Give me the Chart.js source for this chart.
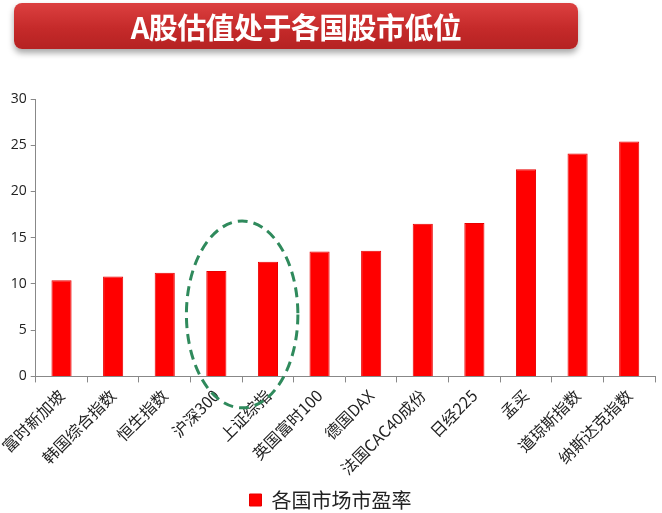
<!DOCTYPE html>
<html>
<head>
<meta charset="utf-8">
<script src="https://cdn.jsdelivr.net/npm/chart.js@4/dist/chart.umd.min.js"></script>
<style>
  html, body { margin: 0; padding: 0; background: #fff; }
  #wrap { position: relative; width: 662px; height: 513px; }
  #banner {
    position: absolute; left: 14px; top: 3px; width: 564px; height: 46px;
    border-radius: 8px;
    background: linear-gradient(#dc4040, #c52a2a 55%, #b52222);
    box-shadow: 0 4px 6px rgba(0,0,0,0.35);
    color: #fff; font: bold 29px "Noto Sans CJK SC", sans-serif;
    text-align: center; line-height: 46px; letter-spacing: -0.6px;
  }
  canvas { position: absolute; left: 0; top: 0; }
</style>
</head>
<body>
<div id="wrap">
  <canvas id="chart" width="662" height="513"></canvas>
  <div id="banner">A股估值处于各国股市低位</div>
</div>
<script>
// 各国市场市盈率
var markets = ['富时新加坡', '韩国综合指数', '恒生指数', '沪深300', '上证综指', '英国富时100',
               '德国DAX', '法国CAC40成份', '日经225', '孟买', '道琼斯指数', '纳斯达克指数'];
var peRatios = [10.4, 10.8, 11.2, 11.4, 12.4, 13.5, 13.6, 16.5, 16.6, 22.4, 24.1, 25.4];
var yTicks = [0, 5, 10, 15, 20, 25, 30];

// dashed ellipse round 沪深300 / 上证综指
var ellipsePlugin = {
  id: 'ellipse',
  afterDatasetsDraw: function (chart) {
    var x = chart.scales.x, y = chart.scales.y, ctx = chart.ctx;
    var step = x.getPixelForValue(1) - x.getPixelForValue(0);
    var cx = (x.getPixelForValue(3) + x.getPixelForValue(4)) / 2;
    var cy = y.getPixelForValue(6.7);
    var ry = y.getPixelForValue(0) - y.getPixelForValue(10.1);
    ctx.save();
    ctx.strokeStyle = '#2f8a5c';
    ctx.lineWidth = 3;
    ctx.setLineDash([10, 6]);
    ctx.beginPath();
    ctx.ellipse(cx, cy, step * 1.08, ry, 0, 0, Math.PI * 2);
    ctx.stroke();
    ctx.restore();
  }
};

new Chart(document.getElementById('chart'), {
  type: 'bar',
  data: {
    labels: markets,
    datasets: [{
      label: '各国市场市盈率',
      data: peRatios,
      backgroundColor: '#ff0000',
      borderColor: '#e80000',
      borderWidth: 1,
      barPercentage: 0.39,
      categoryPercentage: 1
    }]
  },
  options: {
    responsive: false,
    animation: false,
    layout: { padding: { top: 99, right: 7, left: 6, bottom: -7 } },
    plugins: {
      tooltip: { enabled: false },
      legend: {
        position: 'bottom',
        labels: {
          color: '#222',
          font: { family: '"Noto Sans CJK SC", sans-serif', size: 20 },
          boxWidth: 12, boxHeight: 12, padding: 8
        }
      }
    },
    scales: {
      x: {
        grid: { offset: true, drawOnChartArea: false, color: '#888', tickLength: 6 },
        border: { color: '#888' },
        ticks: {
          color: '#222', minRotation: 45, maxRotation: 45, padding: 3.5,
          font: { family: '"Noto Sans CJK SC", sans-serif', size: 16 }
        }
      },
      y: {
        min: 0, max: 30,
        afterBuildTicks: function (axis) {
          axis.ticks = yTicks.map(function (v) { return { value: v }; });
        },
        grid: { drawOnChartArea: false, color: '#888', tickLength: 5 },
        border: { color: '#888' },
        ticks: {
          color: '#222', padding: 4,
          font: { family: '"Open Sans", sans-serif', size: 14 }
        }
      }
    }
  },
  plugins: [ellipsePlugin]
});
</script>
</body>
</html>
